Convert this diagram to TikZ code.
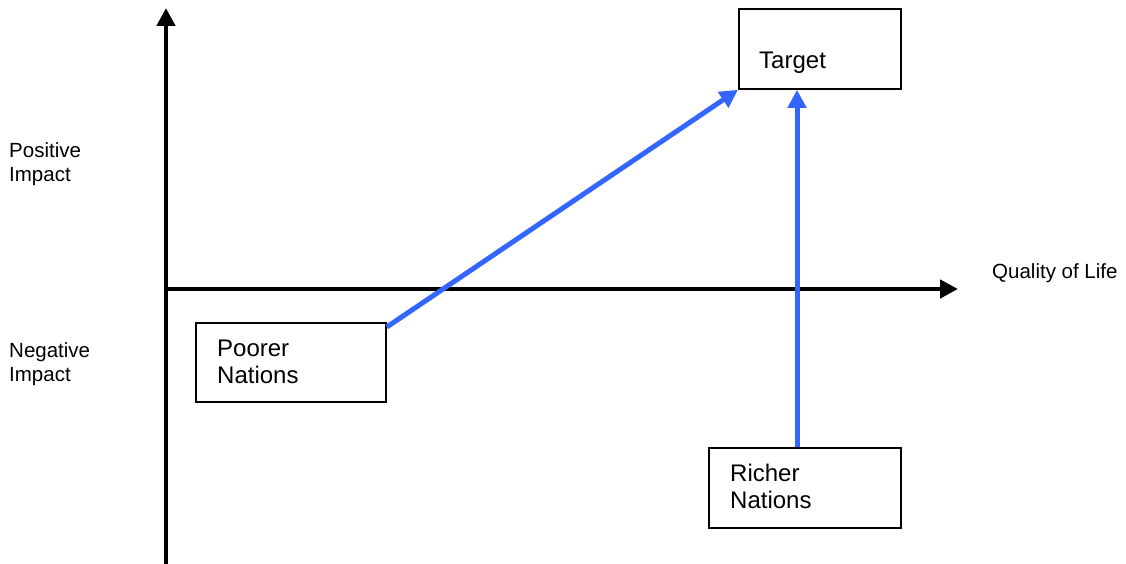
\documentclass[tikz,border=0pt]{standalone}
\usepackage{fontspec}
\setmainfont{Liberation Sans}
\usetikzlibrary{arrows.meta,calc}
\definecolor{arrowblue}{RGB}{51,102,255}
\tikzset{
  box/.style={draw=black,line width=1.8pt,fill=white,rectangle,inner sep=0pt,anchor=north west},
  boxtext/.style={anchor=base west,inner sep=0pt,align=left,font=\fontsize{24}{27}\selectfont},
  sidetext/.style={anchor=base west,inner sep=0pt,align=left,font=\fontsize{20.5}{24}\selectfont},
  axis/.style={line width=4.5pt,draw=black,-{Triangle[length=18pt,width=18pt]}},
  link/.style={line width=5pt,draw=arrowblue,-{Triangle[length=18pt,width=18pt]}},
}
\begin{document}
\begin{tikzpicture}[x=1pt,y=-1pt]
\useasboundingbox (0,0) rectangle (1126,564);
% axes
\coordinate (ybot) at (166,566);
\coordinate (ytop) at (166,8);
\coordinate (xleft) at (164,289);
\coordinate (xright) at (958,289);
\draw[axis] (ybot) -- (ytop);
\draw[axis] (xleft) -- (xright);
% boxes
\node[box,minimum width=162pt,minimum height=80pt] (target) at (738,8) {};
\node[box,minimum width=190pt,minimum height=79pt] (poorer) at (195,322) {};
\node[box,minimum width=192pt,minimum height=80pt] (richer) at (708,447) {};
% box texts (anchor = baseline of last line)
\node[boxtext] (targettxt) at (759,69) {Target};
\node[boxtext] (poorertxt) at (217,383) {Poorer\\Nations};
\node[boxtext] (richertxt) at (730,508) {Richer\\Nations};
% side labels
\node[sidetext] (pos) at (9,182) {Positive\\Impact};
\node[sidetext] (neg) at (9,381) {Negative\\Impact};
\node[sidetext] (qol) at (992,278) {Quality of Life};
% connectors
\coordinate (rstart) at (797,447);
\draw[link] ([yshift=-5pt]poorer.north east) -- (target.south west);
\draw[link] (rstart) -- (rstart |- target.south);
\end{tikzpicture}
\end{document}
